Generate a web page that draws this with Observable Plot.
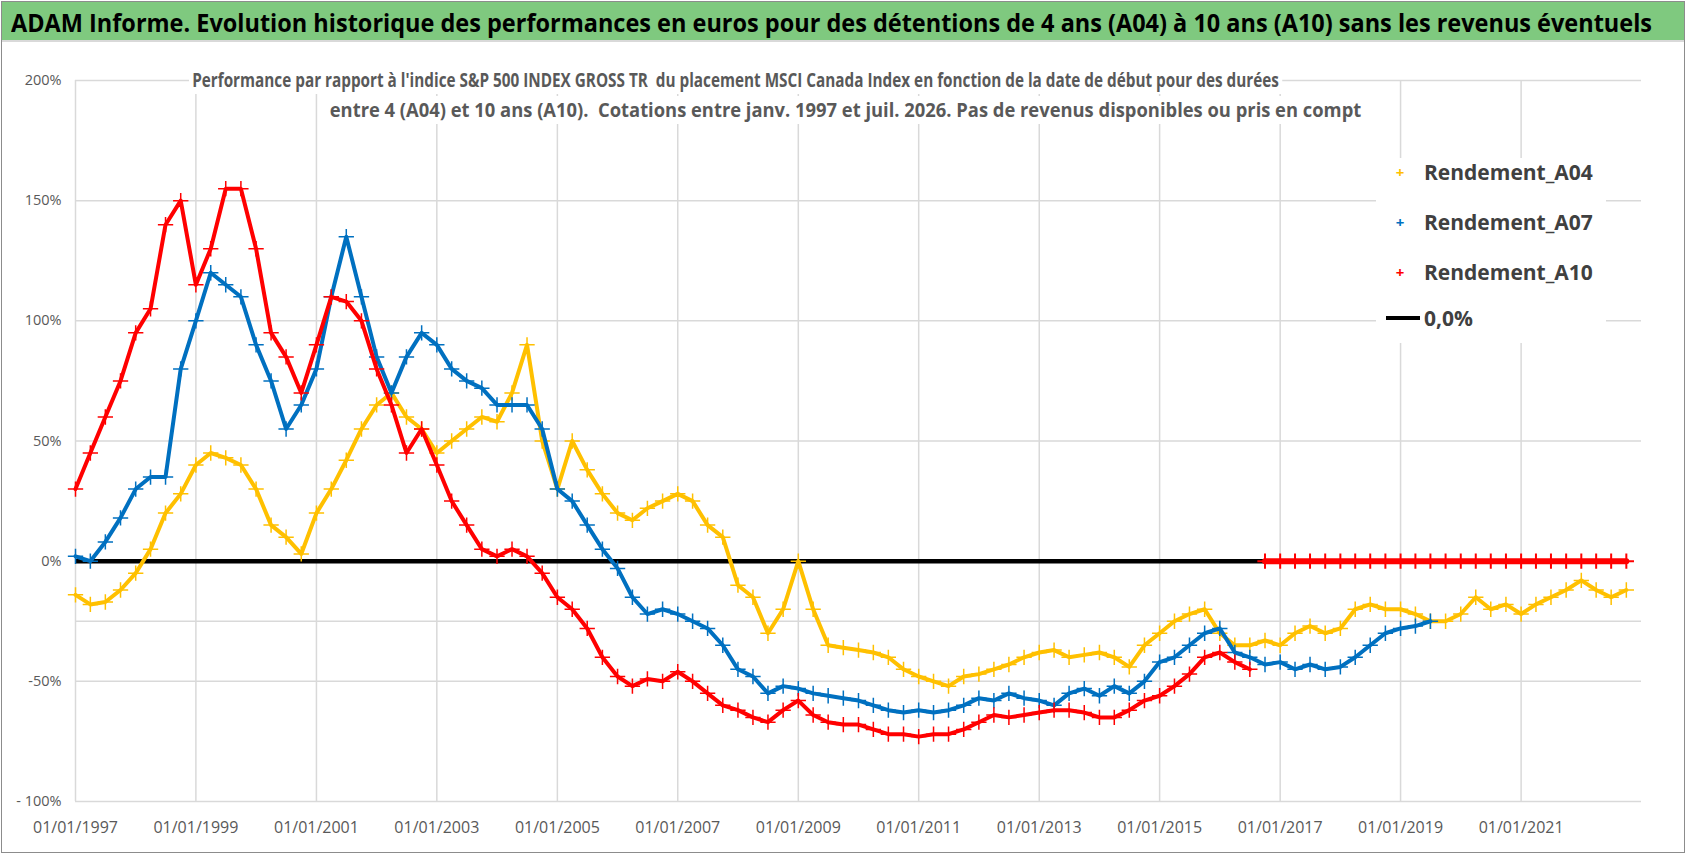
<!DOCTYPE html>
<html><head><meta charset="utf-8">
<script src="https://cdn.jsdelivr.net/npm/d3@7"></script>
<script src="https://cdn.jsdelivr.net/npm/@observablehq/plot@0.6"></script>
<style>
body{margin:0;background:#fff;font-family:"Open Sans",sans-serif;}
#wrap{position:relative;width:1698px;height:856px;overflow:hidden;}
#frame{position:absolute;left:1px;top:1px;width:1684px;height:852px;border:1px solid #8c8c8c;box-sizing:border-box;}
#titlebar{position:absolute;left:2px;top:2px;width:1682px;height:40px;background:#7fc97f;border-bottom:2px solid #d9d9d9;box-sizing:border-box;}
.fit{position:absolute;white-space:nowrap;transform-origin:0 0;font-weight:bold;}
#title{font-size:25px;line-height:40px;top:2px;color:#000;}
.sub{font-size:19.5px;line-height:28px;color:#595959;background:#fff;padding:0 4px;}
#legend{position:absolute;left:1376px;top:158px;width:230px;height:185px;background:#fff;font-weight:bold;font-size:21px;color:#404040;}
.li{position:absolute;left:0;display:flex;align-items:center;}
.sym{width:48px;text-align:center;font-size:15px;}
svg{position:absolute;left:0;top:0;}
</style></head><body>
<div id="wrap"><div id="frame"></div><div id="chart"></div>
<div id="titlebar"></div>
<div id="title" class="fit" data-x="11" data-w="1641">ADAM Informe. Evolution historique des performances en euros pour des détentions de 4 ans (A04) à 10 ans (A10) sans les revenus éventuels</div>
<div class="fit sub" style="top:66px" data-x="189" data-w="1093">Performance par rapport à l'indice S&amp;P 500 INDEX GROSS TR&nbsp; du placement MSCI Canada Index en fonction de la date de début pour des durées</div>
<div class="fit sub" style="top:96px" data-x="326" data-w="1039">entre 4 (A04) et 10 ans (A10).&nbsp; Cotations entre janv. 1997 et juil. 2026. Pas de revenus disponibles ou pris en compt</div>
<div id="legend">
 <div class="li" style="top:0px"><div class="sym" style="color:#ffc000">+</div>Rendement_A04</div>
 <div class="li" style="top:50px"><div class="sym" style="color:#0070c0">+</div>Rendement_A07</div>
 <div class="li" style="top:100px"><div class="sym" style="color:#ff0000">+</div>Rendement_A10</div>
 <div class="li" style="top:146px"><div class="sym"><div style="width:34px;height:4px;background:#000;margin-left:10px"></div></div>0,0%</div>
</div>
</div>
<script>
const startYear = 1997;       // quarterly observations
const quarterStep = 0.25;
const a04 = [-14,-18,-17,-12,-5,5,20,28,40,45,43,40,30,15,10,3,20,30,42,55,65,70,60,55,45,50,55,60,58,70,90,50,30,50,38,28,20,17,22,25,28,25,15,10,-10,-15,-30,-20,0,-20,-35,-36,-37,-38,-40,-45,-48,-50,-52,-48,-47,-45,-43,-40,-38,-37,-40,-39,-38,-40,-44,-35,-30,-25,-22,-20,-30,-35,-35,-33,-35,-30,-27,-30,-28,-20,-18,-20,-20,-22,-25,-25,-22,-15,-20,-18,-22,-18,-15,-12,-8,-12,-15,-12];
const a07 = [2,0,8,18,30,35,35,80,100,120,115,110,90,75,55,65,80,110,135,110,85,70,85,95,90,80,75,72,65,65,65,55,30,25,15,5,-3,-15,-22,-20,-22,-25,-28,-35,-45,-48,-55,-52,-53,-55,-56,-57,-58,-60,-62,-63,-62,-63,-62,-60,-57,-58,-55,-57,-58,-60,-55,-53,-56,-52,-55,-50,-42,-40,-35,-30,-28,-38,-40,-43,-42,-45,-43,-45,-44,-40,-35,-30,-28,-27,-25];
const a10 = [30,45,60,75,95,105,140,150,115,130,155,155,130,95,85,70,90,110,108,100,80,65,45,55,40,25,15,5,2,5,2,-5,-15,-20,-28,-40,-48,-52,-49,-50,-46,-50,-55,-60,-62,-65,-67,-62,-58,-64,-67,-68,-68,-70,-72,-72,-73,-72,-72,-70,-67,-64,-65,-64,-63,-62,-62,-63,-65,-65,-62,-58,-56,-52,-47,-40,-38,-42,-45,0,0,0,0,0,0,0,0,0,0,0,0,0,0,0,0,0,0,0,0,0,0,0,0,0];
const yTicks = [200,150,100,50,0,-50,-100];
const yGrid = [200,150,100,50,-25,-50,-100];
const xTickYears = [1997,1999,2001,2003,2005,2007,2009,2011,2013,2015,2017,2019,2021];

const toDate = y => { const yr=Math.floor(y); const m=Math.round((y-yr)*12); return new Date(yr,m,1); };
const mk = (arr, s) => arr.map((v,i)=>({date:toDate(startYear+i*quarterStep), v, s}));
const d04 = mk(a04,"A04"), d07 = mk(a07,"A07");
const d10all = mk(a10,"A10");
const cut = a10.findIndex((v,i)=>i>70 && v===0);
const d10 = d10all.slice(0,cut), d10z = d10all.slice(cut);
const C = {A04:"#ffc000",A07:"#0070c0",A10:"#ff0000"};
const ser = (d,c)=>[
  Plot.line(d,{x:"date",y:"v",stroke:c,strokeWidth:4,curve:"linear"}),
  Plot.dot(d,{x:"date",y:"v",symbol:"plus",r:5,stroke:c,strokeWidth:1.5})
];
const chart = Plot.plot({
  width:1698, height:856,
  marginLeft:75, marginRight:57, marginTop:80, marginBottom:55,
  style:{fontFamily:'"Open Sans",sans-serif',fontSize:"15px",color:"#595959",background:"transparent"},
  x:{type:"time",domain:[new Date(1997,0,1),new Date(2023,0,1)]},
  y:{domain:[-100,200]},
  marks:[
    Plot.ruleY(yGrid,{stroke:"#d9d9d9",strokeWidth:1.5}),
    Plot.ruleX(xTickYears.map(y=>new Date(y,0,1)),{stroke:"#d9d9d9",strokeWidth:1.5}),
    Plot.axisY(yTicks,{tickSize:0,tickPadding:14,fontSize:14.5,tickFormat:d=>d===-100?"- 100%":d+"%"}),
    Plot.axisX(xTickYears.map(y=>new Date(y,0,1)),{tickSize:0,tickPadding:20,fontSize:16,tickFormat:d3.timeFormat("%d/%m/%Y")}),
    Plot.ruleY([0],{x1:new Date(1997,0,1),x2:d10z[0].date,stroke:"#000",strokeWidth:4.5}),
    ...ser(d04,C.A04),
    ...ser(d07,C.A07),
    ...ser(d10,C.A10),
    Plot.line(d10z,{x:"date",y:"v",stroke:C.A10,strokeWidth:6}),
    Plot.dot(d10z,{x:"date",y:"v",symbol:"plus",r:5,stroke:C.A10,strokeWidth:2})
  ]
});
document.getElementById("chart").appendChild(chart);
document.querySelectorAll(".fit").forEach(el=>{
  const w = el.getBoundingClientRect().width;
  const tw = +el.dataset.w;
  el.style.left = el.dataset.x+"px";
  el.style.transform = `scaleX(${tw/w})`;
});
</script></body></html>
